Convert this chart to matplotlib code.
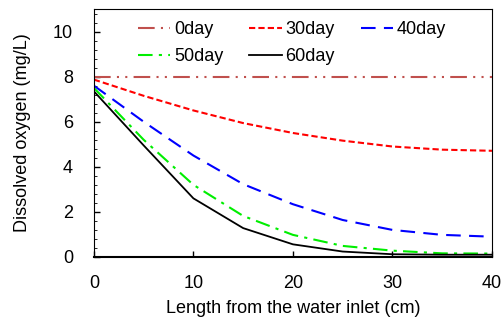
import numpy as np
import matplotlib.pyplot as plt
from matplotlib.ticker import MultipleLocator

plt.rcParams['font.family'] = ['Liberation Sans', 'DejaVu Sans']

# distance from inlet (cm)
length = [0, 5, 10, 15, 20, 25, 30, 35, 40]

do_0 = [8.0, 8.0, 8.0, 8.0, 8.0, 8.0, 8.0, 8.0, 8.0]
do_30 = [7.87, 7.15, 6.5, 5.94, 5.5, 5.16, 4.9, 4.76, 4.71]
do_40 = [7.6, 6.0, 4.5, 3.23, 2.34, 1.64, 1.2, 0.98, 0.9]
do_50 = [7.5, 5.2, 3.2, 1.82, 0.98, 0.49, 0.28, 0.16, 0.15]
do_60 = [7.35, 4.95, 2.6, 1.28, 0.56, 0.24, 0.12, 0.1, 0.1]

fig = plt.figure(figsize=(5.02, 3.22), dpi=100)
ax = fig.add_axes([0.187, 0.202, 0.793, 0.77])

l0, = ax.plot(length, do_0, color='#c0504d', lw=1.5, dashes=(8, 3, 1, 3, 1, 3), label='0day')
l30, = ax.plot(length, do_30, color='#ff0000', lw=1.5, dashes=(3, 1.5), label='30day')
l40, = ax.plot(length, do_40, color='#0000ff', lw=1.5, dashes=(7, 4), label='40day')
l50, = ax.plot(length, do_50, color='#00ee00', lw=1.5, dashes=(7, 3, 1.5, 3), label='50day')
l60, = ax.plot(length, do_60, color='black', lw=1.3, label='60day')

ax.set_xlim(0, 40)
ax.set_ylim(0, 11)
ax.set_xticks([0, 10, 20, 30, 40])
ax.set_yticks([0, 2, 4, 6, 8, 10])
ax.yaxis.set_minor_locator(MultipleLocator(0.4))
ax.tick_params(direction='in', labelsize=13, length=4, width=1)
ax.tick_params(axis='y', which='minor', direction='in', length=2.5)
ax.tick_params(axis='x', pad=13)
ax.tick_params(axis='y', pad=15)
ax.spines['bottom'].set_linewidth(1.5)
for s in ['left', 'top', 'right']:
    ax.spines[s].set_linewidth(0.8)

ax.set_xlabel('Length from the water inlet (cm)', fontsize=13, labelpad=6)
ax.set_ylabel('Dissolved oxygen (mg/L)', fontsize=13, labelpad=16)

# column-wise fill -> rows: 0,30,40 / 50,60
handles = [l0, l50, l30, l60, l40]
ax.legend(handles, [h.get_label() for h in handles], ncol=3, frameon=False,
          fontsize=13, loc='upper left', bbox_to_anchor=(0.092, 0.98),
          handlelength=1.8, handletextpad=0.2, columnspacing=1.45,
          labelspacing=0.55, borderaxespad=0)

fig.savefig('out.png', dpi=100)
